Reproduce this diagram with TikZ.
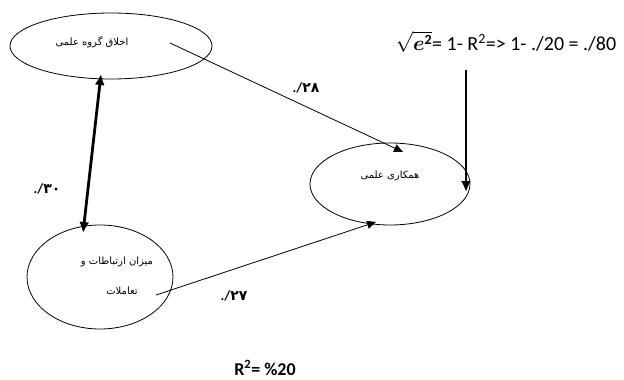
\documentclass[tikz,border=0pt]{standalone}
\usepackage{amsmath}
\usepackage{fontspec}
\usetikzlibrary{arrows.meta,shapes.geometric}
\setmainfont{Carlito}
\newfontfamily\farsi[Script=Arabic]{DejaVu Sans}
\TeXXeTstate=1

\begin{document}
\begin{tikzpicture}[x=1pt,y=-1pt,
  oval/.style={draw,ellipse,line width=0.8pt,inner sep=0pt},
  fa/.style={font=\farsi\fontsize{10}{12}\selectfont},
  coef/.style={font=\fontsize{14}{16}\selectfont\bfseries},
  effect/.style={-{Triangle[length=9pt,width=8pt]},line width=0.8pt},
  thk/.style={line width=2.8pt}]
\fill[white] (0,0) rectangle (624,380);
\useasboundingbox (0,0) rectangle (624,380);
% ovals
\node[oval,minimum width=202pt,minimum height=66pt] (ax) at (111,46) {};
\node[oval,minimum width=160pt,minimum height=82pt] (hm) at (390,184) {};
\node[oval,minimum width=146pt,minimum height=104pt] (mz) at (100,277) {};
\node[fa] (axt) at (92,42) {\beginR اخلاق گروه علمی\endR};
\node[fa] (hmt) at (390,176) {\beginR همکاری علمی\endR};
\node[fa] (mzt1) at (117,262) {\beginR میزان ارتباطات و\endR};
\node[fa] (mzt2) at (122,291) {\beginR تعاملات\endR};
% paths
\coordinate (a1) at (170,43); \coordinate (a2) at (403,152);
\draw[effect] (a1) -- (a2);
\node[coef] (l28) at (306,88) {./{\farsi ۲۸}};
\coordinate (b1) at (156,295); \coordinate (b2) at (376,222);
\draw[effect] (b1) -- (b2);
\node[coef] (l27) at (234,296) {./{\farsi ۲۷}};
\coordinate (c1) at (101,74); \coordinate (c2) at (83,233);
\draw[thk,{Latex[length=11pt,width=10pt]}-{Latex[length=11pt,width=10pt]}] (c1) -- (c2);
\node[coef] (l30) at (47,189) {./{\farsi ۳۰}};
% error term
\node[font=\fontsize{20}{22}\selectfont] (eq) at (506,42)
  {$\sqrt{\boldsymbol{e}^{\mathbf{2}}}$= 1- R\textsuperscript{2}=> 1- ./20 = ./80};
\coordinate (d1) at (466,70); \coordinate (d2) at (466,192);
\draw[thk,-{Latex[length=11pt,width=10pt]}] (d1) -- (d2);
\node[font=\fontsize{18}{20}\selectfont,anchor=base,inner sep=0pt] (r2) at (265,375) {\textbf{R\textsuperscript{2}= \%20}};
\end{tikzpicture}
\end{document}
